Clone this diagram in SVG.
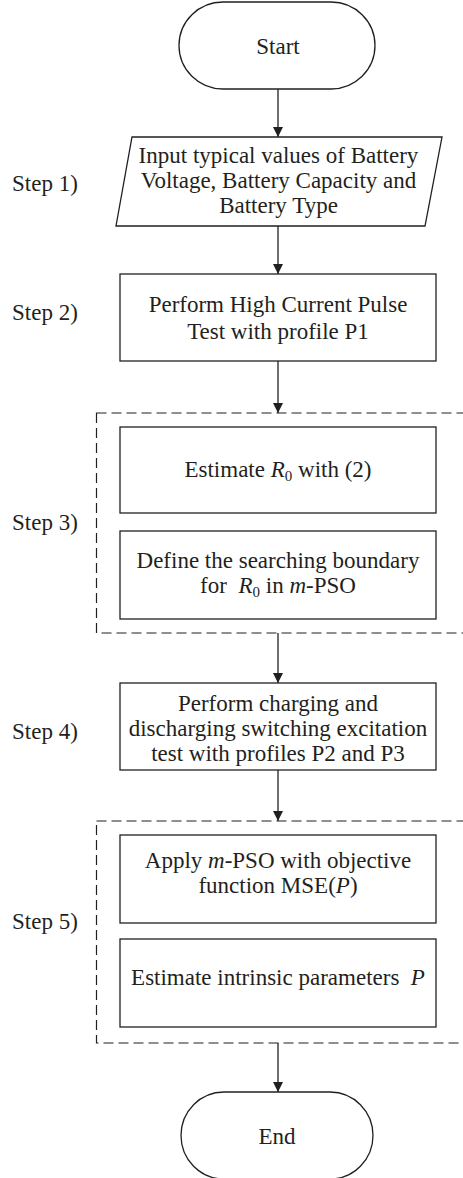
<svg xmlns="http://www.w3.org/2000/svg" width="463" height="1178" viewBox="0 0 463 1178">
  <defs>
    <style>
      .shape { fill: #ffffff; stroke: #231f20; stroke-width: 1.3; }
      .group { fill: none; stroke: #231f20; stroke-width: 1.2; stroke-dasharray: 10 5; }
      .link { fill: none; stroke: #231f20; stroke-width: 1.3; }
      text { font-family: "Liberation Serif", "Times New Roman", serif; font-size: 23px; fill: #231f20; }
      .c { text-anchor: middle; }
      .it { font-style: italic; }
      .sub { font-size: 15px; }
    </style>
    <marker id="arrow" markerWidth="10" markerHeight="11" refX="10" refY="5" orient="auto" markerUnits="userSpaceOnUse">
      <path d="M0,0 L10,5 L0,10 Z" fill="#231f20"/>
    </marker>
  </defs>
  <rect width="463" height="1178" fill="#ffffff"/>

  <!-- step labels -->
  <g id="step-labels">
    <text x="12" y="191">Step 1)</text>
    <text x="12" y="320">Step 2)</text>
    <text x="12" y="530">Step 3)</text>
    <text x="12" y="739">Step 4)</text>
    <text x="12" y="929">Step 5)</text>
  </g>

  <!-- dashed grouping frames -->
  <g id="group-step3">
    <rect class="group" x="96.5" y="413" width="400" height="220"/>
  </g>
  <g id="group-step5">
    <rect class="group" x="96.5" y="821" width="400" height="222"/>
  </g>

  <!-- connectors -->
  <g id="connectors">
    <line class="link" x1="278" y1="89" x2="278" y2="137" marker-end="url(#arrow)"/>
    <line class="link" x1="278" y1="226" x2="278" y2="274" marker-end="url(#arrow)"/>
    <line class="link" x1="278" y1="361" x2="278" y2="413" marker-end="url(#arrow)"/>
    <line class="link" x1="278" y1="633" x2="278" y2="683" marker-end="url(#arrow)"/>
    <line class="link" x1="278" y1="770" x2="278" y2="821" marker-end="url(#arrow)"/>
    <line class="link" x1="278" y1="1043" x2="278" y2="1092" marker-end="url(#arrow)"/>
  </g>

  <g id="start">
    <path class="shape" d="M223,2 H331 A44,43.5 0 0 1 331,89 H223 A44,43.5 0 0 1 223,2 Z"/>
    <text class="c" x="278" y="54">Start</text>
  </g>

  <g id="input">
    <polygon class="shape" points="132,137 442,137 425,226 116,226"/>
    <text class="c" x="278.5" y="163">Input typical values of Battery</text>
    <text class="c" x="278.5" y="188">Voltage, Battery Capacity and</text>
    <text class="c" x="278.5" y="213">Battery Type</text>
  </g>

  <g id="pulse-test">
    <rect class="shape" x="120" y="274" width="316" height="87"/>
    <text class="c" x="278" y="312">Perform High Current Pulse</text>
    <text class="c" x="278" y="339">Test with profile P1</text>
  </g>

  <g id="estimate-r0">
    <rect class="shape" x="120" y="427" width="316" height="86"/>
    <text class="c" x="278" y="477">Estimate <tspan class="it">R</tspan><tspan class="sub" dy="4">0</tspan><tspan dy="-4"> with (2)</tspan></text>
  </g>

  <g id="boundary-r0">
    <rect class="shape" x="120" y="531" width="316" height="88"/>
    <text class="c" x="278" y="568">Define the searching boundary</text>
    <text class="c" x="278" y="593" xml:space="preserve">for  <tspan class="it">R</tspan><tspan class="sub" dy="4">0</tspan><tspan dy="-4"> in </tspan><tspan class="it">m</tspan>-PSO</text>
  </g>

  <g id="excitation-test">
    <rect class="shape" x="120" y="683" width="316" height="87"/>
    <text class="c" x="278" y="711">Perform charging and</text>
    <text class="c" x="278" y="736">discharging switching excitation</text>
    <text class="c" x="278" y="761">test with profiles P2 and P3</text>
  </g>

  <g id="apply-mpso">
    <rect class="shape" x="120" y="835" width="316" height="88"/>
    <text class="c" x="278" y="868">Apply <tspan class="it">m</tspan>-PSO with objective</text>
    <text class="c" x="278" y="893">function MSE(<tspan class="it">P</tspan>)</text>
  </g>

  <g id="estimate-p">
    <rect class="shape" x="120" y="939" width="316" height="88"/>
    <text class="c" x="278" y="985" xml:space="preserve">Estimate intrinsic parameters  <tspan class="it">P</tspan></text>
  </g>

  <g id="end">
    <path class="shape" d="M224,1092 H330 A43,43.5 0 0 1 330,1179 H224 A43,43.5 0 0 1 224,1092 Z"/>
    <text class="c" x="277" y="1144">End</text>
  </g>
</svg>
